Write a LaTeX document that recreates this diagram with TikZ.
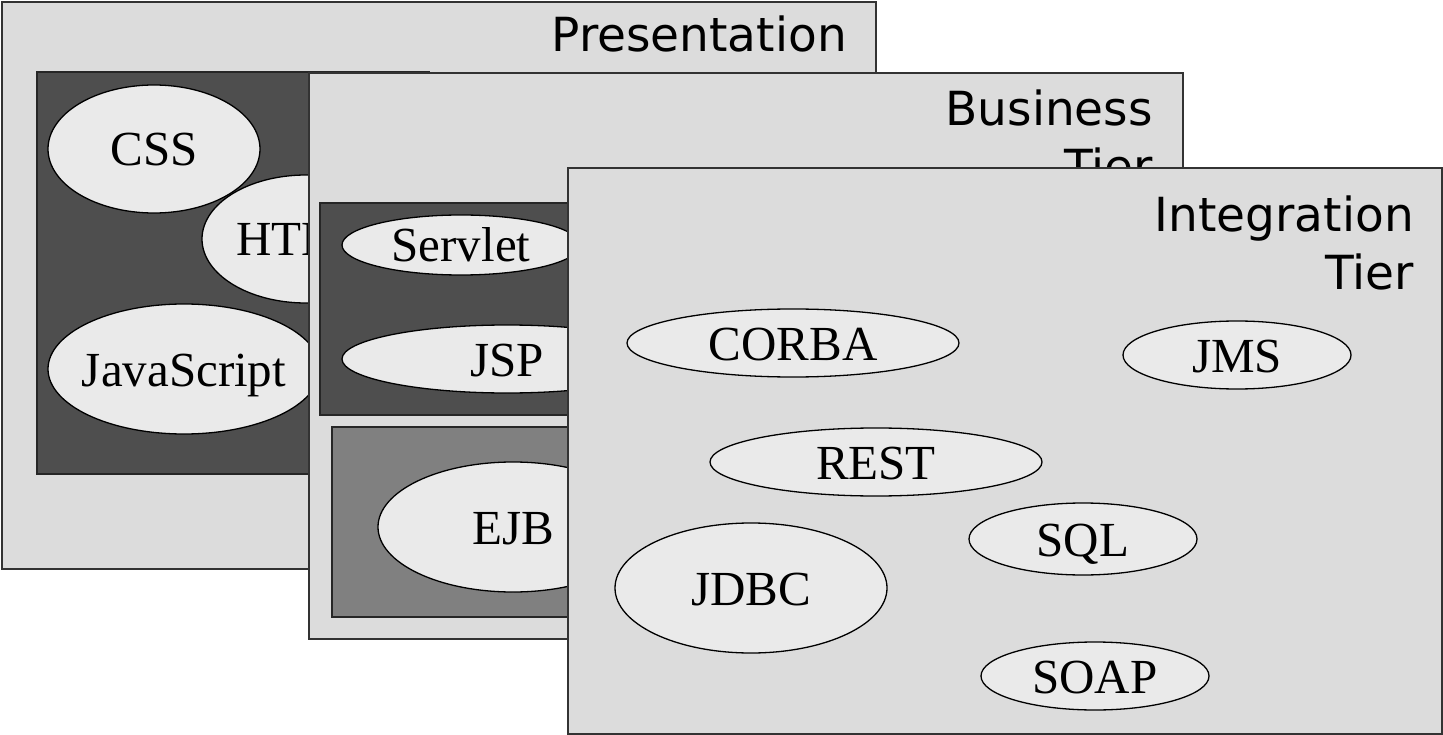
\documentclass[tikz,border=0pt]{standalone}
\usepackage{fontspec}
\setmainfont{Liberation Serif}
\newfontfamily\labfont{DejaVu Sans}
\usetikzlibrary{shapes.geometric}
\definecolor{panelfill}{HTML}{DCDCDC}
\definecolor{darkfill}{HTML}{4E4E4E}
\definecolor{midfill}{HTML}{808080}
\definecolor{ellfill}{HTML}{EAEAEA}
\definecolor{edge}{HTML}{333333}
\newcommand\zw[1]{\makebox[0pt]{#1}}
\begin{document}
\begin{tikzpicture}[x=1pt,y=-1pt,
  panel/.style={rectangle, draw=edge, line width=2pt, fill=panelfill, anchor=north west, inner sep=0pt},
  darkbox/.style={rectangle, draw=black!85, line width=1.6pt, fill=darkfill, anchor=north west, inner sep=0pt},
  midbox/.style={rectangle, draw=black!85, line width=1.6pt, fill=midfill, anchor=north west, inner sep=0pt},
  tech/.style={ellipse, draw=black, line width=1.3pt, fill=ellfill, inner sep=0pt,
    text height=34pt, text depth=0pt, font=\fontsize{49}{58}\selectfont},
  tierlabel/.style={inner sep=0pt, align=right, font=\labfont\fontsize{47}{58}\selectfont}]
\useasboundingbox (0,0) rectangle (1443,735);
% Presentation tier
\node[panel, minimum width=874pt, minimum height=567pt] (pres) at (1,1) {};
\node[tierlabel, anchor=base east] (preslab) at (847,52) {Presentation};
\node[darkbox, minimum width=392pt, minimum height=402pt] (presin) at (36,71) {};
\node[tech, minimum width=208pt, minimum height=128pt] (html) at (306,239) {\zw{HTML}};
\node[tech, minimum width=212pt, minimum height=128pt] (css) at (154,149) {\zw{CSS}};
\node[tech, minimum width=272pt, minimum height=130pt] (js) at (184,369) {\zw{JavaScript}};
% Business tier
\node[panel, minimum width=874pt, minimum height=566pt] (bus) at (308,72) {};
\node[tierlabel, anchor=north east] (buslab) at (1153,90) {Business\\Tier};
\node[darkbox, minimum width=290pt, minimum height=212pt] (busin) at (319,202) {};
\node[tech, minimum width=238pt, minimum height=60pt] (servlet) at (461,245) {\zw{Servlet}};
\node[tech, minimum width=330pt, minimum height=68pt] (jsp) at (507,359) {\zw{JSP}};
\node[midbox, minimum width=280pt, minimum height=190pt] (busmid) at (331,426) {};
\node[tech, minimum width=270pt, minimum height=130pt] (ejb) at (513,527) {\zw{EJB}};
% Integration tier
\node[panel, minimum width=874pt, minimum height=566pt] (integ) at (567,167) {};
\node[tierlabel, anchor=north east] (integlab) at (1414,196) {Integration\\Tier};
\node[tech, minimum width=332pt, minimum height=68pt] (corba) at (793,343) {\zw{CORBA}};
\node[tech, minimum width=228pt, minimum height=68pt] (jms) at (1237,355) {\zw{JMS}};
\node[tech, minimum width=332pt, minimum height=68pt] (rest) at (876,462) {\zw{REST}};
\node[tech, minimum width=228pt, minimum height=72pt] (sql) at (1083,539) {\zw{SQL}};
\node[tech, minimum width=272pt, minimum height=130pt] (jdbc) at (751,588) {\zw{JDBC}};
\node[tech, minimum width=228pt, minimum height=68pt] (soap) at (1095,676) {\zw{SOAP}};
\end{tikzpicture}
\end{document}
